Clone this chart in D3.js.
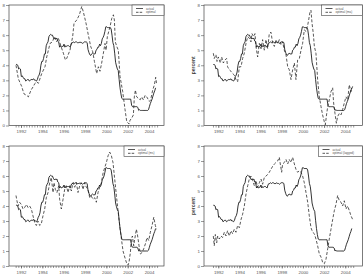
<!DOCTYPE html>
<html>
<head>
<meta charset="utf-8">
<script src="https://cdn.jsdelivr.net/npm/d3@7"></script>
<style>
body { margin: 0; background: #fff; }
svg { display: block; font-family: "Liberation Sans", Arial, sans-serif; }
</style>
</head>
<body>
<svg id="chart" width="363" height="278"></svg>
<script>
const svg = d3.select('#chart')
const lineColor = '#111'
const textColor = '#555'

// actual rate, one value per month, first month sits at actualStart on the time axis
const actualStart = 1991.53
const actual = [
	4.05, 4.05, 4.0, 3.75, 3.8, 3.75, 3.25, 3.3, 3.2, 3.1, 3.1, 2.95,
	3.0, 3.05, 3.05, 2.95, 3.0, 3.05, 3.05, 3.05, 3.1, 3.0, 3.0, 2.95,
	3.05, 3.25, 3.35, 3.55, 4.0, 4.25, 4.25, 4.45, 4.75, 4.75, 5.3, 5.45,
	5.55, 5.9, 6.0, 6.05, 6.0, 6.0, 5.85, 5.75, 5.8, 5.75, 5.8, 5.6,
	5.55, 5.2, 5.3, 5.2, 5.25, 5.25, 5.4, 5.2, 5.3, 5.25, 5.3, 5.3,
	5.25, 5.2, 5.4, 5.5, 5.5, 5.55, 5.5, 5.55, 5.55, 5.5, 5.5, 5.5,
	5.55, 5.5, 5.5, 5.45, 5.5, 5.55, 5.55, 5.55, 5.5, 5.05, 4.85, 4.7,
	4.65, 4.75, 4.8, 4.75, 4.75, 4.75, 5.0, 5.05, 5.2, 5.2, 5.4, 5.3,
	5.45, 5.75, 5.85, 6.0, 6.25, 6.55, 6.55, 6.5, 6.5, 6.5, 6.5, 6.4,
	6.0, 5.5, 5.3, 4.8, 4.2, 3.95, 3.75, 3.65, 3.05, 2.5, 2.1, 1.8,
	1.75, 1.75, 1.75, 1.75, 1.75, 1.75, 1.75, 1.75, 1.75, 1.75, 1.35, 1.25,
	1.25, 1.25, 1.25, 1.25, 1.25, 1.2, 1.0, 1.05, 1.0, 1.0, 1.0, 1.0,
	1.0, 1.0, 1.0, 1.0, 1.0, 1.05, 1.25, 1.45, 1.6, 1.75, 1.95, 2.15,
	2.3, 2.5
]

// optimal rates, [year, percent]
const optimal = [
	[1991.53, 4.0], [1991.75, 3.1], [1992.06, 2.6], [1992.28, 2.1], [1992.53, 2.0], [1992.69, 1.9],
	[1992.94, 2.35], [1993.16, 2.6], [1993.31, 2.8], [1993.47, 2.9], [1993.63, 2.8], [1993.94, 3.45],
	[1994.25, 3.9], [1994.41, 4.55], [1994.72, 5.45], [1994.94, 5.55], [1995.13, 5.9], [1995.34, 5.55],
	[1995.5, 5.8], [1995.75, 5.25], [1995.97, 4.8], [1996.16, 4.35], [1996.28, 4.45], [1996.59, 5.0],
	[1996.84, 5.9], [1996.97, 6.8], [1997.22, 7.0], [1997.47, 7.35], [1997.69, 7.9], [1997.84, 7.55],
	[1998.09, 6.8], [1998.31, 6.0], [1998.53, 5.25], [1998.72, 4.9], [1998.88, 4.25], [1999.09, 3.45],
	[1999.25, 3.9], [1999.4, 3.6], [1999.56, 4.15], [1999.72, 4.8], [1999.87, 5.45], [1999.97, 5.0],
	[2000.09, 5.9], [2000.34, 6.55], [2000.5, 7.1], [2000.66, 7.35], [2000.75, 7.0], [2000.84, 5.55],
	[2000.97, 5.25], [2001.12, 5.0], [2001.28, 3.25], [2001.53, 2.25], [2001.75, 1.05], [2001.91, 0.25],
	[2002.13, 0.1], [2002.22, 0.35], [2002.38, 0.5], [2002.53, 0.7], [2002.62, 1.9], [2002.72, 2.35],
	[2002.84, 1.9], [2003.0, 1.8], [2003.16, 1.7], [2003.31, 1.9], [2003.47, 1.7], [2003.63, 2.0],
	[2003.78, 1.9], [2004.03, 1.6], [2004.15, 1.7], [2004.34, 2.35], [2004.5, 2.7], [2004.62, 3.2],
	[2004.7, 2.8]
]

const optimalMa = [
	[1991.53, 4.8], [1991.62, 4.45], [1991.78, 4.7], [1991.88, 4.25], [1992.0, 4.55], [1992.19, 4.15],
	[1992.32, 4.55], [1992.48, 4.15], [1992.63, 4.35], [1992.79, 4.45], [1992.88, 3.9], [1993.04, 3.7],
	[1993.2, 3.6], [1993.36, 3.45], [1993.51, 3.35], [1993.67, 3.05], [1993.83, 2.9], [1993.99, 3.9],
	[1994.15, 3.9], [1994.3, 4.45], [1994.46, 4.8], [1994.62, 5.45], [1994.78, 5.9], [1994.93, 5.8],
	[1995.09, 5.55], [1995.18, 6.1], [1995.34, 5.9], [1995.47, 6.1], [1995.56, 5.25], [1995.72, 4.55],
	[1995.88, 5.45], [1996.04, 5.1], [1996.19, 5.7], [1996.35, 5.0], [1996.51, 5.7], [1996.67, 5.1],
	[1996.82, 6.1], [1996.98, 6.2], [1997.14, 5.45], [1997.3, 5.25], [1997.45, 5.7], [1997.61, 5.45],
	[1997.77, 5.7], [1997.93, 5.35], [1998.08, 5.55], [1998.24, 5.0], [1998.4, 4.7], [1998.56, 3.9],
	[1998.71, 3.7], [1998.87, 3.05], [1999.03, 3.7], [1999.19, 4.15], [1999.34, 3.05], [1999.5, 4.35],
	[1999.66, 4.45], [1999.82, 5.0], [1999.97, 5.45], [2000.13, 6.35], [2000.29, 6.25], [2000.45, 6.65],
	[2000.54, 7.0], [2000.67, 7.55], [2000.76, 7.65], [2000.86, 6.8], [2000.98, 6.1], [2001.08, 5.25],
	[2001.23, 4.8], [2001.39, 3.05], [2001.55, 1.9], [2001.71, 1.25], [2001.86, 0.7], [2002.02, 0.25],
	[2002.12, 0.05], [2002.21, 0.6], [2002.34, 1.25], [2002.49, 1.7], [2002.65, 2.25], [2002.81, 2.5],
	[2002.9, 1.5], [2003.03, 0.8], [2003.16, 0.15], [2003.28, 0.6], [2003.44, 0.8], [2003.6, 0.7],
	[2003.75, 1.05], [2003.91, 1.5], [2004.07, 1.9], [2004.23, 1.7], [2004.38, 2.7], [2004.54, 2.25],
	[2004.7, 2.6]
]

const optimalMs = [
	[1991.53, 4.7], [1991.62, 4.35], [1991.72, 4.0], [1991.87, 4.25], [1992.03, 4.1], [1992.19, 3.8],
	[1992.34, 3.9], [1992.5, 4.1], [1992.66, 3.9], [1992.81, 4.0], [1992.97, 3.8], [1993.12, 3.35],
	[1993.28, 2.9], [1993.44, 2.7], [1993.59, 3.0], [1993.75, 2.7], [1993.9, 2.8], [1994.06, 3.35],
	[1994.22, 3.8], [1994.37, 4.55], [1994.53, 4.9], [1994.69, 5.55], [1994.84, 5.9], [1995.0, 4.9],
	[1995.09, 5.55], [1995.22, 5.1], [1995.37, 4.9], [1995.53, 5.35], [1995.62, 4.45], [1995.78, 3.8],
	[1995.94, 4.45], [1996.09, 5.1], [1996.25, 5.35], [1996.41, 4.9], [1996.56, 5.35], [1996.72, 5.0],
	[1996.87, 5.55], [1997.03, 5.25], [1997.19, 5.55], [1997.34, 4.9], [1997.5, 5.35], [1997.66, 5.55],
	[1997.81, 5.1], [1997.97, 5.55], [1998.12, 5.25], [1998.28, 5.1], [1998.44, 4.55], [1998.59, 4.65],
	[1998.75, 4.45], [1998.91, 4.55], [1999.06, 4.25], [1999.22, 4.9], [1999.37, 5.25], [1999.53, 5.55],
	[1999.69, 6.2], [1999.84, 6.55], [2000.0, 6.9], [2000.16, 7.35], [2000.31, 7.6], [2000.47, 7.35],
	[2000.62, 6.9], [2000.78, 5.8], [2000.94, 4.7], [2001.09, 3.7], [2001.25, 2.7], [2001.41, 1.8],
	[2001.56, 1.0], [2001.72, 0.6], [2001.87, 0.25], [2002.03, 0.05], [2002.12, 0.25], [2002.25, 0.9],
	[2002.34, 1.8], [2002.44, 2.0], [2002.56, 1.35], [2002.66, 1.8], [2002.81, 2.45], [2002.9, 2.15],
	[2003.06, 1.35], [2003.19, 0.8], [2003.34, 0.9], [2003.5, 1.15], [2003.69, 1.55], [2003.81, 1.9],
	[2003.97, 1.7], [2004.12, 2.25], [2004.28, 2.7], [2004.44, 3.25], [2004.59, 2.7], [2004.69, 2.45]
]

const optimalLagged = [
	[1991.53, 2.0], [1991.62, 1.35], [1991.72, 2.1], [1991.85, 1.55], [1991.94, 2.0], [1992.1, 1.8],
	[1992.25, 2.0], [1992.41, 1.9], [1992.57, 2.25], [1992.73, 2.0], [1992.88, 2.35], [1993.04, 2.0],
	[1993.2, 2.35], [1993.36, 2.15], [1993.51, 2.45], [1993.67, 2.25], [1993.83, 2.7], [1993.99, 2.55],
	[1994.15, 3.1], [1994.3, 3.45], [1994.46, 4.0], [1994.62, 4.8], [1994.78, 5.35], [1994.93, 5.8],
	[1995.09, 6.0], [1995.25, 5.7], [1995.41, 5.35], [1995.56, 5.7], [1995.72, 5.25], [1995.88, 5.55],
	[1996.04, 5.8], [1996.19, 5.45], [1996.35, 5.9], [1996.51, 6.0], [1996.67, 6.1], [1996.82, 6.25],
	[1996.98, 6.45], [1997.14, 6.65], [1997.3, 6.8], [1997.45, 6.9], [1997.61, 7.0], [1997.77, 7.25],
	[1997.86, 6.8], [1997.99, 6.25], [1998.08, 6.8], [1998.24, 6.9], [1998.4, 7.1], [1998.56, 6.8],
	[1998.71, 7.1], [1998.87, 6.9], [1999.03, 7.25], [1999.19, 6.8], [1999.34, 6.45], [1999.5, 6.25],
	[1999.66, 6.35], [1999.82, 6.25], [1999.97, 6.0], [2000.13, 5.55], [2000.29, 4.9], [2000.45, 4.25],
	[2000.6, 3.35], [2000.76, 2.55], [2000.92, 2.25], [2001.08, 2.15], [2001.23, 1.8], [2001.39, 1.35],
	[2001.55, 0.8], [2001.71, 0.6], [2001.86, 0.25], [2002.02, 0.15], [2002.18, 0.45], [2002.34, 1.15],
	[2002.49, 1.8], [2002.65, 2.45], [2002.81, 3.1], [2002.97, 3.7], [2003.12, 4.1], [2003.28, 4.7],
	[2003.44, 4.35], [2003.6, 4.25], [2003.75, 4.0], [2003.91, 4.35], [2004.07, 3.8], [2004.23, 4.0],
	[2004.38, 3.7], [2004.54, 3.35], [2004.7, 3.1]
]

const yTickValues = [0, 1, 2, 3, 4, 5, 6, 7, 8]
const yearLabels = [1992, 1994, 1996, 1998, 2000, 2002, 2004]
const legendNames = ['optimal', 'optimal (ma)', 'optimal (ms)', 'optimal (lagged)']
const optimalSeries = [optimal, optimalMa, optimalMs, optimalLagged]

// panel frames (pixels) and their time domain
const panels = [
	{ left: 9, right: 164, top: 5, bottom: 125.5, t0: 1990.875, t1: 2005.4, ylab: false, legendW: 32 },
	{ left: 204, right: 362.5, top: 5, bottom: 125.5, t0: 1990.65, t1: 2005.63, ylab: true, legendW: 41 },
	{ left: 9, right: 164, top: 146, bottom: 266, t0: 1990.875, t1: 2005.4, ylab: false, legendW: 40 },
	{ left: 204, right: 362.5, top: 146, bottom: 266, t0: 1990.65, t1: 2005.63, ylab: true, legendW: 44 }
]

const actualPoints = actual.map((v, i) => [actualStart + i / 12, v])

// quarterly minor ticks along the time axis
const quarterTicks = d3.range(0, 54).map(q => 1991.5 + q / 4)

panels.forEach((p, k) => {
	const x = d3.scaleLinear().domain([p.t0, p.t1]).range([p.left, p.right])
	const y = d3.scaleLinear().domain([0, 8]).range([p.bottom, p.top])
	const g = svg.append('g')

	// y axis
	g.append('g')
		.attr('transform', `translate(${p.left},0)`)
		.call(d3.axisLeft(y).tickValues(yTickValues).tickSize(3).tickPadding(1).tickFormat(d3.format('d')))

	// minor x ticks
	g.append('g')
		.attr('transform', `translate(0,${p.bottom})`)
		.call(d3.axisBottom(x).tickValues(quarterTicks).tickSize(2).tickFormat(''))

	// labelled years
	g.append('g')
		.attr('transform', `translate(0,${p.bottom})`)
		.call(d3.axisBottom(x).tickValues(yearLabels).tickSize(2.5).tickPadding(2.2).tickFormat(d3.format('d')))

	g.selectAll('path.domain').remove()
	g.selectAll('.tick line').style('stroke', '#555').style('stroke-width', 0.6)
	g.selectAll('.tick text').style('font-size', '4.4px').attr('fill', textColor)

	// frame
	g.append('rect')
		.attr('x', p.left).attr('y', p.top)
		.attr('width', p.right - p.left).attr('height', p.bottom - p.top)
		.attr('fill', 'none').attr('stroke', '#444').attr('stroke-width', 0.7)

	const line = d3.line().x(d => x(d[0])).y(d => y(d[1]))

	g.append('path')
		.datum(actualPoints)
		.attr('d', line)
		.attr('fill', 'none')
		.attr('stroke', lineColor)
		.attr('stroke-width', 0.85)

	g.append('path')
		.datum(optimalSeries[k])
		.attr('d', line)
		.attr('fill', 'none')
		.attr('stroke', '#222')
		.attr('stroke-width', 0.75)
		.attr('stroke-dasharray', '3,1.8')

	// legend
	const lx = p.right - p.legendW
	g.append('rect')
		.attr('x', lx).attr('y', p.top)
		.attr('width', p.legendW).attr('height', 10.5)
		.attr('fill', '#fff').attr('stroke', '#444').attr('stroke-width', 0.6)
	g.append('line').attr('x1', lx + 4).attr('x2', lx + 11).attr('y1', p.top + 3.5).attr('y2', p.top + 3.5)
		.attr('stroke', lineColor).attr('stroke-width', 0.7)
	g.append('line').attr('x1', lx + 4).attr('x2', lx + 11).attr('y1', p.top + 7.3).attr('y2', p.top + 7.3)
		.attr('stroke', lineColor).attr('stroke-width', 0.7).attr('stroke-dasharray', '2.5,1.2')
	g.append('text').attr('x', lx + 14).attr('y', p.top + 4.6).text('actual')
		.style('font-size', '3px').attr('fill', textColor)
	g.append('text').attr('x', lx + 14).attr('y', p.top + 8.4).text(legendNames[k])
		.style('font-size', '3px').attr('fill', textColor)

	if (p.ylab) {
		g.append('text')
			.attr('transform', `translate(${p.left - 9},${(p.top + p.bottom) / 2}) rotate(-90)`)
			.attr('text-anchor', 'middle')
			.style('font-size', '5px')
			.style('font-weight', 'bold')
			.attr('fill', '#444')
			.text('percent')
	}
})
</script>
</body>
</html>
